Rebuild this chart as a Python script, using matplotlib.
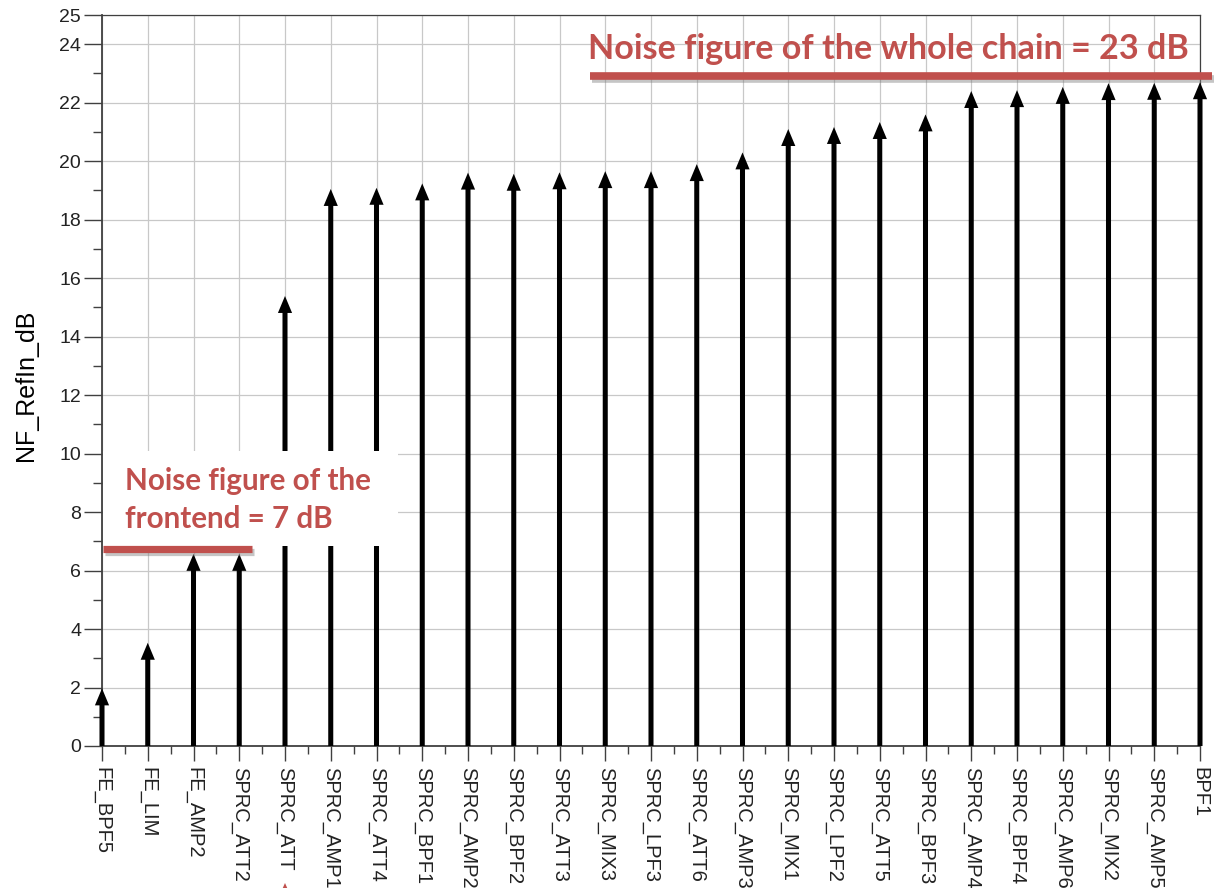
import matplotlib
matplotlib.use("Agg")
import matplotlib.pyplot as plt
import matplotlib.patheffects as pe
from matplotlib.patches import Rectangle, Polygon
from matplotlib.lines import Line2D
import numpy as np

# Cascaded noise figure at the output of each stage of the receive chain
stages = [
    "FE_BPF5", "FE_LIM", "FE_AMP2", "SPRC_ATT2", "SPRC_ATT", "SPRC_AMP1",
    "SPRC_ATT4", "SPRC_BPF1", "SPRC_AMP2", "SPRC_BPF2", "SPRC_ATT3",
    "SPRC_MIX3", "SPRC_LPF3", "SPRC_ATT6", "SPRC_AMP3", "SPRC_MIX1",
    "SPRC_LPF2", "SPRC_ATT5", "SPRC_BPF3", "SPRC_AMP4", "SPRC_BPF4",
    "SPRC_AMP6", "SPRC_MIX2", "SPRC_AMP5", "BPF1",
]
nf_db = [
    1.97, 3.53, 6.57, 6.57, 15.39, 19.05,
    19.09, 19.24, 19.61, 19.57, 19.62,
    19.66, 19.66, 19.90, 20.30, 21.10,
    21.17, 21.34, 21.60, 22.40, 22.43,
    22.54, 22.67, 22.68, 22.70,
]
y_major = list(range(0, 25, 2)) + [25]
y_minor = list(range(1, 24, 2))

frontend_note = ["Noise figure of the", "frontend = 7 dB"]
chain_note = "Noise figure of the whole chain = 23 dB"

W, H = 1214, 888
fig = plt.figure(figsize=(W / 100, H / 100), dpi=100)
fig.patch.set_facecolor("white")


def fx(px):
    return px / W


def fy(py):
    return 1 - py / H


ax = fig.add_axes([fx(102), fy(746), fx(1200) - fx(102), fy(15) - fy(746)])
x = np.arange(len(stages))
ax.set_xlim(0, len(stages) - 1)
ax.set_ylim(0, 25)

tick_color = "#404040"
label_color = "#222222"
tick_font = "Liberation Sans"

ax.set_xticks(x)
ax.set_xticks(x[:-1] + 0.5, minor=True)
ax.set_xticklabels(stages, rotation=270, fontsize=14.5, family=tick_font,
                   color=label_color)
ax.set_yticks(y_major)
ax.set_yticks(y_minor, minor=True)
ax.set_yticklabels([str(v) for v in y_major], fontsize=14, family=tick_font,
                   color=label_color)

ax.tick_params(axis="x", which="major", length=11, width=1.0, pad=4,
               color=tick_color)
ax.tick_params(axis="x", which="minor", length=5.8, width=1.0,
               color=tick_color)
ax.tick_params(axis="y", which="major", length=13, width=1.0, pad=2,
               color=tick_color)
ax.tick_params(axis="y", which="minor", length=6.5, width=1.0,
               color=tick_color)

ax.grid(True, which="major", color="#c8c8c8", linewidth=0.9)
ax.set_axisbelow(True)
for side, sp in ax.spines.items():
    sp.set_color(tick_color)
    sp.set_linewidth(1.3 if side in ("left", "bottom") else 0.9)

ax.set_ylabel("NF_RefIn_dB", fontsize=18, family=tick_font, color="black")
ax.yaxis.set_label_coords(-0.058, 0.493)

# One arrow per stage, tip at the cascaded noise figure
for xi, v in zip(x, nf_db):
    ax.arrow(xi, 0, 0, v, width=0.11, head_width=0.31, head_length=0.58,
             length_includes_head=True, fc="black", ec="none", lw=0,
             zorder=3, clip_on=False)

red = "#C0504D"
shadow = [pe.SimpleLineShadow(offset=(1.5, -2.5), shadow_color="#7f7f7f",
                              alpha=0.45),
          pe.Normal()]

# Whole-chain callout
fig.text(fx(588), fy(59), chain_note, ha="left", va="baseline",
         fontsize=24.6, fontweight="bold", family="Lato", color=red, zorder=6)
fig.add_artist(Line2D([fx(590), fx(1212)], [fy(76), fy(76)],
                      transform=fig.transFigure, lw=5.5, color=red,
                      solid_capstyle="butt", path_effects=shadow, zorder=6))

# Frontend callout on a white panel
fig.add_artist(Rectangle((fx(103), fy(546)), fx(398) - fx(103),
                         fy(451) - fy(546), transform=fig.transFigure,
                         fc="white", ec="none", zorder=5))
fig.text(fx(125), fy(490), frontend_note[0], ha="left", va="baseline",
         fontsize=21.3, fontweight="bold", family="Lato", color=red, zorder=6)
fig.text(fx(125), fy(528), frontend_note[1], ha="left", va="baseline",
         fontsize=21.3, fontweight="bold", family="Lato", color=red, zorder=6)
fig.add_artist(Line2D([fx(103), fx(252)], [fy(549), fy(549)],
                      transform=fig.transFigure, lw=5.2, color=red,
                      solid_capstyle="butt", path_effects=shadow, zorder=6))

# Small red pointer peeking in at the bottom edge
fig.add_artist(Polygon([[fx(285), fy(883)], [fx(281), fy(892)],
                        [fx(289), fy(892)]], closed=True,
                       transform=fig.transFigure, fc=red, ec="none",
                       zorder=6))

fig.savefig("out.png", dpi=100)
